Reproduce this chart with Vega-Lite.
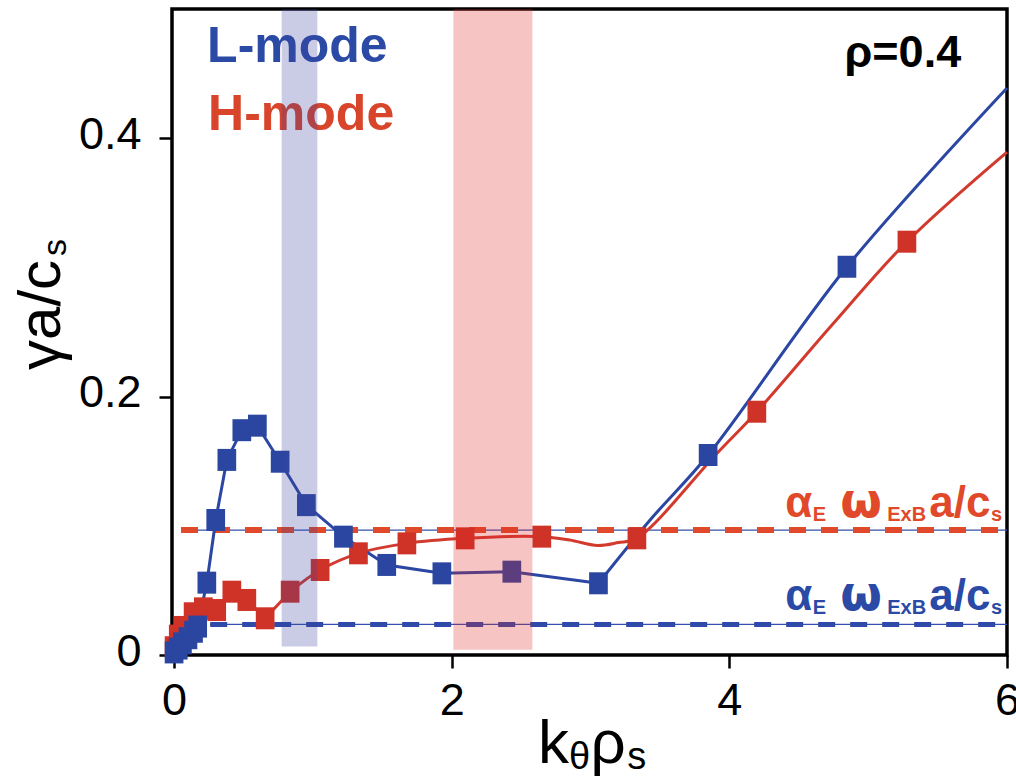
{
  "$schema": "https://vega.github.io/schema/vega-lite/v6.json",
  "width": 835,
  "height": 646,
  "autosize": {"type": "none"},
  "padding": {"left": 172, "top": 9, "right": 9, "bottom": 121},
  "background": "white",
  "config": {
    "view": {"stroke": "black", "strokeWidth": 3.5},
    "axis": {
      "domain": false, "grid": false, "tickColor": "black", "tickWidth": 2.5, "tickSize": 13,
      "labelColor": "black", "labelFont": "Liberation Sans", "labelFontSize": 45,
      "title": null, "labelFlush": false, "labelOverlap": false, "labelBound": false
    },
    "text": {"font": "Liberation Sans"}
  },
  "datasets": {
    "curves": [
      {"mode": "L", "seg": "lin", "k": 0.0, "gamma": 0.002, "m": 1},
      {"mode": "L", "seg": "lin", "k": 0.03, "gamma": 0.005, "m": 1},
      {"mode": "L", "seg": "lin", "k": 0.06, "gamma": 0.009, "m": 1},
      {"mode": "L", "seg": "lin", "k": 0.1, "gamma": 0.013, "m": 1},
      {"mode": "L", "seg": "lin", "k": 0.14, "gamma": 0.018, "m": 1},
      {"mode": "L", "seg": "lin", "k": 0.17, "gamma": 0.022, "m": 1},
      {"mode": "L", "seg": "lin", "k": 0.236, "gamma": 0.056, "m": 1},
      {"mode": "L", "seg": "lin", "k": 0.3, "gamma": 0.1045, "m": 1},
      {"mode": "L", "seg": "lin", "k": 0.38, "gamma": 0.151, "m": 1},
      {"mode": "L", "seg": "lin", "k": 0.488, "gamma": 0.174, "m": 1},
      {"mode": "L", "seg": "lin", "k": 0.6, "gamma": 0.1775, "m": 1},
      {"mode": "L", "seg": "lin", "k": 0.764, "gamma": 0.1496, "m": 1},
      {"mode": "L", "seg": "lin", "k": 0.953, "gamma": 0.116, "m": 1},
      {"mode": "L", "seg": "lin", "k": 1.22, "gamma": 0.0916, "m": 1},
      {"mode": "L", "seg": "lin", "k": 1.532, "gamma": 0.0697, "m": 1},
      {"mode": "L", "seg": "lin", "k": 1.929, "gamma": 0.0632, "m": 1},
      {"mode": "L", "seg": "lin", "k": 2.433, "gamma": 0.0645, "m": 1},
      {"mode": "L", "seg": "lin", "k": 3.057, "gamma": 0.0555, "m": 1},
      {"mode": "L", "seg": "smooth", "k": 3.057, "gamma": 0.0555, "m": 0},
      {"mode": "L", "seg": "smooth", "k": 3.429, "gamma": 0.1045, "m": 0},
      {"mode": "L", "seg": "smooth", "k": 3.847, "gamma": 0.1548, "m": 1},
      {"mode": "L", "seg": "smooth", "k": 4.847, "gamma": 0.3005, "m": 1},
      {"mode": "L", "seg": "smooth", "k": 6.0, "gamma": 0.4389, "m": 0},
      {"mode": "H", "seg": "lin", "k": 0.0, "gamma": 0.006, "m": 1},
      {"mode": "H", "seg": "lin", "k": 0.03, "gamma": 0.015, "m": 1},
      {"mode": "H", "seg": "lin", "k": 0.065, "gamma": 0.0217, "m": 1},
      {"mode": "H", "seg": "lin", "k": 0.137, "gamma": 0.0323, "m": 1},
      {"mode": "H", "seg": "lin", "k": 0.211, "gamma": 0.0361, "m": 1},
      {"mode": "H", "seg": "lin", "k": 0.307, "gamma": 0.0348, "m": 1},
      {"mode": "H", "seg": "lin", "k": 0.416, "gamma": 0.049, "m": 1},
      {"mode": "H", "seg": "lin", "k": 0.524, "gamma": 0.0426, "m": 1},
      {"mode": "H", "seg": "lin", "k": 0.656, "gamma": 0.0284, "m": 1},
      {"mode": "H", "seg": "lin", "k": 0.836, "gamma": 0.049, "m": 1},
      {"mode": "H", "seg": "smooth", "k": 0.836, "gamma": 0.049, "m": 0},
      {"mode": "H", "seg": "smooth", "k": 1.052, "gamma": 0.0658, "m": 1},
      {"mode": "H", "seg": "smooth", "k": 1.328, "gamma": 0.0787, "m": 1},
      {"mode": "H", "seg": "smooth", "k": 1.677, "gamma": 0.0864, "m": 1},
      {"mode": "H", "seg": "smooth", "k": 2.097, "gamma": 0.0903, "m": 1},
      {"mode": "H", "seg": "smooth", "k": 2.649, "gamma": 0.0916, "m": 1},
      {"mode": "H", "seg": "smooth", "k": 2.85, "gamma": 0.089, "m": 0},
      {"mode": "H", "seg": "smooth", "k": 3.05, "gamma": 0.0848, "m": 0},
      {"mode": "H", "seg": "smooth", "k": 3.2, "gamma": 0.087, "m": 0},
      {"mode": "H", "seg": "smooth", "k": 3.334, "gamma": 0.0903, "m": 1},
      {"mode": "H", "seg": "smooth", "k": 3.91, "gamma": 0.156, "m": 0},
      {"mode": "H", "seg": "smooth", "k": 4.198, "gamma": 0.1883, "m": 1},
      {"mode": "H", "seg": "smooth", "k": 4.75, "gamma": 0.2567, "m": 0},
      {"mode": "H", "seg": "smooth", "k": 5.279, "gamma": 0.3199, "m": 1},
      {"mode": "H", "seg": "smooth", "k": 6.0, "gamma": 0.3893, "m": 0}
    ],
    "levels": [
      {"mode": "H", "k": 0.05, "k2": 5.95, "k3": 6.0, "gamma": 0.0967},
      {"mode": "L", "k": 0.26, "k2": 5.95, "k3": 6.0, "gamma": 0.0237}
    ]
  },
  "encoding": {
    "x": {
      "field": "k", "type": "quantitative",
      "scale": {"domain": [-0.015, 6], "nice": false, "zero": false},
      "axis": {"values": [0, 2, 4, 6], "format": "d", "labelPadding": 10, "labelBaseline": "top"}
    },
    "y": {
      "field": "gamma", "type": "quantitative",
      "scale": {"domain": [0, 0.5], "nice": false, "zero": false},
      "axis": {"values": [0, 0.2, 0.4], "format": "~g", "labelPadding": 18, "labelOffset": -4}
    }
  },
  "layer": [
    {
      "data": {"name": "levels"},
      "mark": {"type": "rule", "color": "#3550b0", "strokeWidth": 1.2},
      "encoding": {"x2": {"field": "k3"}}
    },
    {
      "data": {"name": "levels"},
      "transform": [{"filter": "datum.mode == 'H'"}],
      "mark": {"type": "rule", "color": "#e04a2a", "strokeWidth": 6, "strokeDash": [17, 15]},
      "encoding": {"x2": {"field": "k2"}}
    },
    {
      "data": {"name": "levels"},
      "transform": [{"filter": "datum.mode == 'L'"}],
      "mark": {"type": "rule", "color": "#2f4aa8", "strokeWidth": 5, "strokeDash": [17, 15]},
      "encoding": {"x2": {"field": "k2"}}
    },
    {
      "data": {"name": "curves"},
      "transform": [{"filter": "datum.mode == 'H' && datum.seg == 'lin'"}],
      "mark": {"type": "line", "color": "#d33a2e", "strokeWidth": 3, "interpolate": "linear"},
      "encoding": {}
    },
    {
      "data": {"name": "curves"},
      "transform": [{"filter": "datum.mode == 'H' && datum.seg == 'smooth'"}],
      "mark": {"type": "line", "color": "#d33a2e", "strokeWidth": 3, "interpolate": "catmull-rom"},
      "encoding": {}
    },
    {
      "data": {"name": "curves"},
      "transform": [{"filter": "datum.mode == 'L' && datum.seg == 'lin'"}],
      "mark": {"type": "line", "color": "#2b47a3", "strokeWidth": 3, "interpolate": "linear"},
      "encoding": {}
    },
    {
      "data": {"name": "curves"},
      "transform": [{"filter": "datum.mode == 'L' && datum.seg == 'smooth'"}],
      "mark": {"type": "line", "color": "#2b47a3", "strokeWidth": 3, "interpolate": "catmull-rom"},
      "encoding": {}
    },
    {
      "data": {"name": "curves"},
      "transform": [{"filter": "datum.mode == 'H' && datum.m == 1"}],
      "mark": {"type": "point", "filled": true, "opacity": 1, "color": "#cf3327", "shape": "M-0.85,-1H0.85V1H-0.85Z", "size": 484}
    },
    {
      "data": {"name": "curves"},
      "transform": [{"filter": "datum.mode == 'L' && datum.m == 1"}],
      "mark": {"type": "point", "filled": true, "opacity": 1, "color": "#2b46a0", "shape": "M-0.85,-1H0.85V1H-0.85Z", "size": 484}
    },
    {
      "data": {"values": [{"k": 0.238, "gamma": 0.459, "label": "L-mode"}]},
      "mark": {"type": "text", "align": "left", "baseline": "alphabetic", "fontSize": 50, "fontWeight": "bold", "color": "#2b4aa6"},
      "encoding": {"text": {"field": "label"}}
    },
    {
      "data": {"values": [{"k": 0.245, "gamma": 0.406, "label": "H-mode"}]},
      "mark": {"type": "text", "align": "left", "baseline": "alphabetic", "fontSize": 50, "fontWeight": "bold", "color": "#d9452b"},
      "encoding": {"text": {"field": "label"}}
    },
    {
      "data": {"values": [{"k": 5.67, "gamma": 0.455, "label": "ρ=0.4"}]},
      "mark": {"type": "text", "align": "right", "baseline": "alphabetic", "fontSize": 45, "fontWeight": "bold", "color": "black"},
      "encoding": {"text": {"field": "label"}}
    },
    {
      "data": {"values": [
        {"k": 4.402, "gamma": 0.1068, "label": "α"},
        {"k": 5.44, "gamma": 0.1068, "label": "a/c"}
      ]},
      "mark": {"type": "text", "align": "left", "baseline": "alphabetic", "fontSize": 44, "fontWeight": "bold", "color": "#e04a2a"},
      "encoding": {"text": {"field": "label"}}
    },
    {
      "data": {"values": [{"k": 4.798, "gamma": 0.1068, "label": "ω"}]},
      "mark": {"type": "text", "align": "left", "baseline": "alphabetic", "font": "DejaVu Sans", "fontSize": 48, "fontWeight": "bold", "color": "#e04a2a"},
      "encoding": {"text": {"field": "label"}}
    },
    {
      "data": {"values": [
        {"k": 4.6, "gamma": 0.1037, "label": "E"},
        {"k": 5.137, "gamma": 0.1037, "label": "ExB"},
        {"k": 5.885, "gamma": 0.1037, "label": "s"}
      ]},
      "mark": {"type": "text", "align": "left", "baseline": "alphabetic", "fontSize": 20, "fontWeight": "bold", "color": "#e04a2a"},
      "encoding": {"text": {"field": "label"}}
    },
    {
      "data": {"values": [
        {"k": 4.402, "gamma": 0.0348, "label": "α"},
        {"k": 5.44, "gamma": 0.0348, "label": "a/c"}
      ]},
      "mark": {"type": "text", "align": "left", "baseline": "alphabetic", "fontSize": 44, "fontWeight": "bold", "color": "#2b4aa6"},
      "encoding": {"text": {"field": "label"}}
    },
    {
      "data": {"values": [{"k": 4.798, "gamma": 0.0348, "label": "ω"}]},
      "mark": {"type": "text", "align": "left", "baseline": "alphabetic", "font": "DejaVu Sans", "fontSize": 48, "fontWeight": "bold", "color": "#2b4aa6"},
      "encoding": {"text": {"field": "label"}}
    },
    {
      "data": {"values": [
        {"k": 4.6, "gamma": 0.0317, "label": "E"},
        {"k": 5.137, "gamma": 0.0317, "label": "ExB"},
        {"k": 5.885, "gamma": 0.0317, "label": "s"}
      ]},
      "mark": {"type": "text", "align": "left", "baseline": "alphabetic", "fontSize": 20, "fontWeight": "bold", "color": "#2b4aa6"},
      "encoding": {"text": {"field": "label"}}
    },
    {
      "data": {"values": [
        {"k": 2.622, "gamma": -0.0836, "label": "k"},
        {"k": 3.0, "gamma": -0.0836, "label": "ρ"}
      ]},
      "mark": {"type": "text", "align": "left", "baseline": "alphabetic", "fontSize": 62, "color": "black"},
      "encoding": {"text": {"field": "label"}}
    },
    {
      "data": {"values": [
        {"k": 2.845, "gamma": -0.088, "label": "θ"},
        {"k": 3.265, "gamma": -0.088, "label": "s"}
      ]},
      "mark": {"type": "text", "align": "left", "baseline": "alphabetic", "fontSize": 38, "color": "black"},
      "encoding": {"text": {"field": "label"}}
    },
    {
      "data": {"values": [{"k": -0.821, "gamma": 0.2206, "label": "γa/c"}]},
      "mark": {"type": "text", "align": "left", "baseline": "alphabetic", "angle": 270, "fontSize": 60, "color": "black"},
      "encoding": {"text": {"field": "label"}}
    },
    {
      "data": {"values": [{"k": -0.778, "gamma": 0.3088, "label": "s"}]},
      "mark": {"type": "text", "align": "left", "baseline": "alphabetic", "angle": 270, "fontSize": 34, "color": "black"},
      "encoding": {"text": {"field": "label"}}
    },
    {
      "data": {"values": [
        {"mode": "L", "k": 0.775, "k2": 1.032, "gamma": 0.0065, "gamma2": 0.5},
        {"mode": "H", "k": 2.012, "k2": 2.581, "gamma": 0.004, "gamma2": 0.5}
      ]},
      "mark": {"type": "rect", "opacity": 0.27},
      "encoding": {
        "x2": {"field": "k2"},
        "y2": {"field": "gamma2"},
        "color": {"field": "mode", "type": "nominal", "scale": {"domain": ["L", "H"], "range": ["#3a44a0", "#e02424"]}, "legend": null}
      }
    }
  ]
}
